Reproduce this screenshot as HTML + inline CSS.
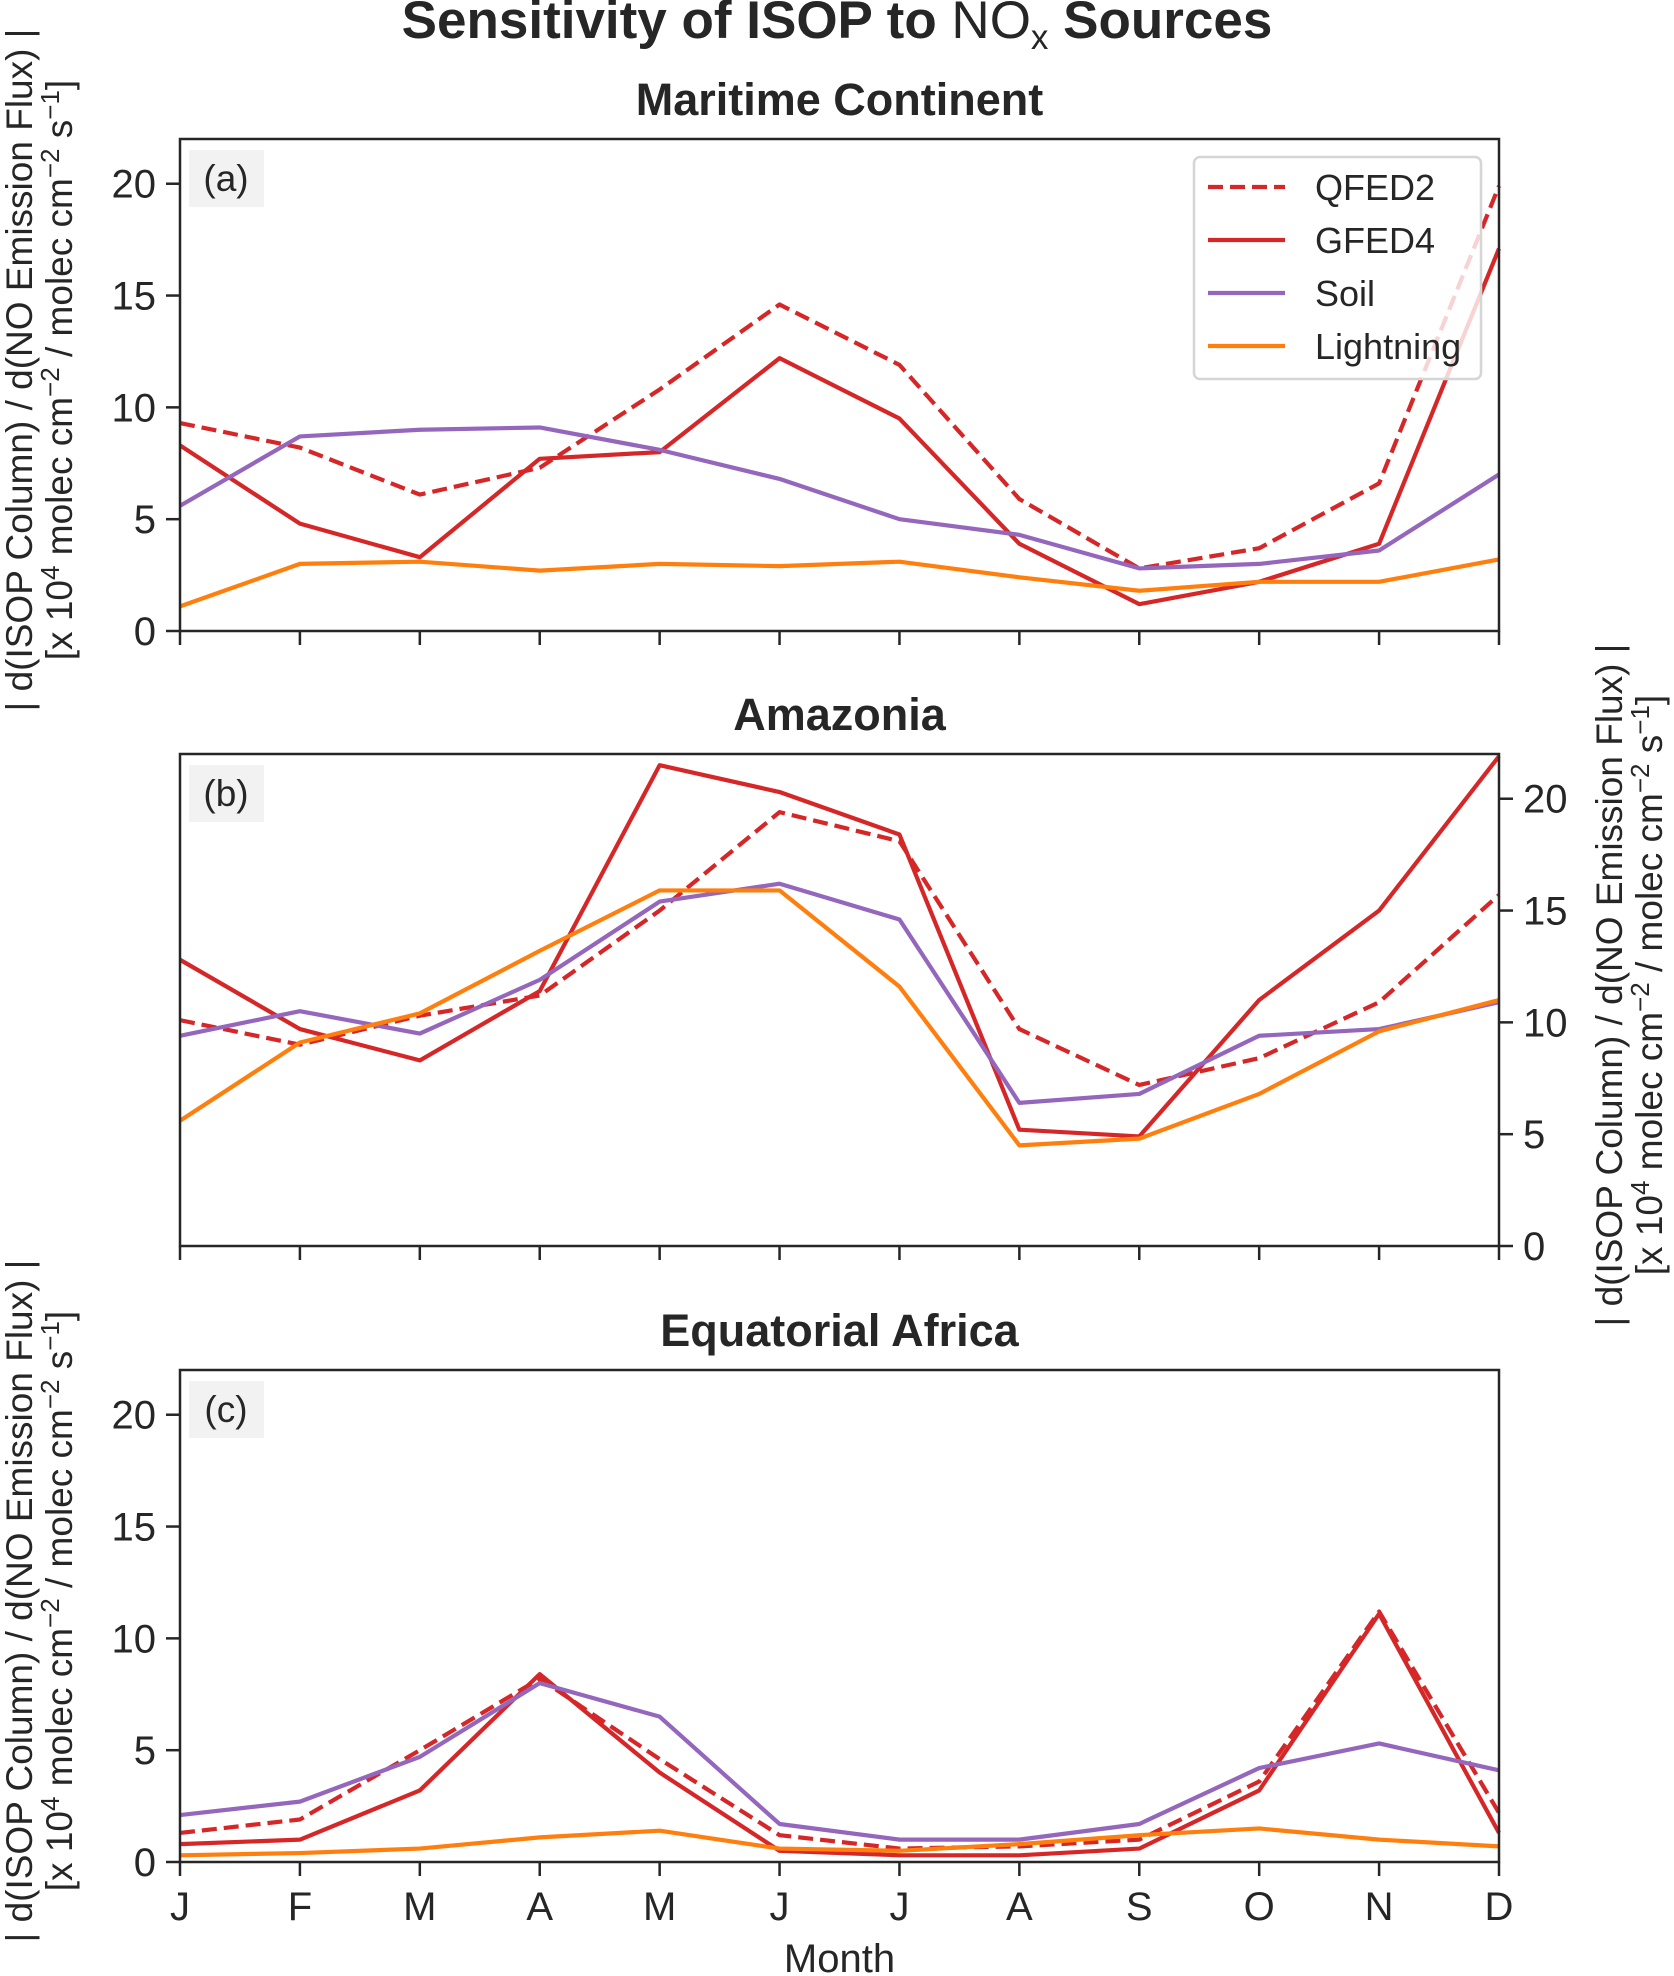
<!DOCTYPE html>
<html><head><meta charset="utf-8">
<style>
body{margin:0;background:#fff}
svg{display:block;font-family:"Liberation Sans",sans-serif}
</style></head>
<body>
<svg id="fig" width="1674" height="1976" viewBox="0 0 1674 1976">
<text x="837" y="38" text-anchor="middle" font-size="53" font-weight="bold" fill="#262626">Sensitivity of ISOP to <tspan font-weight="normal">NO</tspan><tspan font-weight="normal" font-size="35" dy="11">x</tspan><tspan dy="-11"> Sources</tspan></text>
</svg>
<script>
const months = ["J","F","M","A","M","J","J","A","S","O","N","D"];
const yTicks = [0,5,10,15,20];
const seriesNames = ["QFED2","GFED4","Soil","Lightning"];
const maritimeQFED2 = [9.3,8.2,6.1,7.3,10.8,14.6,11.9,5.9,2.8,3.7,6.6,19.9];
const maritimeGFED4 = [8.3,4.8,3.3,7.7,8.0,12.2,9.5,3.9,1.2,2.2,3.9,17.1];
const maritimeSoil = [5.6,8.7,9.0,9.1,8.1,6.8,5.0,4.3,2.8,3.0,3.6,7.0];
const maritimeLightning = [1.1,3.0,3.1,2.7,3.0,2.9,3.1,2.4,1.8,2.2,2.2,3.2];
const amazonQFED2 = [10.1,9.0,10.3,11.2,15.0,19.4,18.1,9.7,7.2,8.4,10.9,15.7];
const amazonGFED4 = [12.8,9.7,8.3,11.4,21.5,20.3,18.4,5.2,4.9,11.0,15.0,21.9];
const amazonSoil = [9.4,10.5,9.5,11.9,15.4,16.2,14.6,6.4,6.8,9.4,9.7,10.9];
const amazonLightning = [5.6,9.1,10.4,13.2,15.9,15.9,11.6,4.5,4.8,6.8,9.6,11.0];
const africaQFED2 = [1.3,1.9,5.0,8.2,4.6,1.2,0.6,0.7,1.0,3.6,11.2,2.2];
const africaGFED4 = [0.8,1.0,3.2,8.4,4.0,0.5,0.3,0.3,0.6,3.2,11.1,1.3];
const africaSoil = [2.1,2.7,4.7,8.0,6.5,1.7,1.0,1.0,1.7,4.2,5.3,4.1];
const africaLightning = [0.3,0.4,0.6,1.1,1.4,0.6,0.5,0.8,1.2,1.5,1.0,0.7];

const NS="http://www.w3.org/2000/svg";
const svg=document.getElementById('fig');
const X0=180,X1=1499,H=492,YMAX=22;
const colors=["#d62728","#d62728","#9467bd","#ff7f0e"];
const dashes=["15,7",null,null,null];
function el(t,a,p){const e=document.createElementNS(NS,t);for(const k in a)e.setAttribute(k,a[k]);(p||svg).appendChild(e);return e;}
function xs(i){return X0+i*(X1-X0)/11;}

const panels=[
 {top:139,title:"Maritime Continent",tag:"(a)",side:"left",xl:false,data:[maritimeQFED2,maritimeGFED4,maritimeSoil,maritimeLightning],key:"maritime"},
 {top:754,title:"Amazonia",tag:"(b)",side:"right",xl:false,data:[amazonQFED2,amazonGFED4,amazonSoil,amazonLightning],key:"amazonia"},
 {top:1370,title:"Equatorial Africa",tag:"(c)",side:"left",xl:true,data:[africaQFED2,africaGFED4,africaSoil,africaLightning],key:"africa"}
];
panels.forEach((p,pi)=>{
 const g=el('g',{});
 
 
 const ys=v=>p.top+H-v/YMAX*H;
 const t=el('text',{x:(X0+X1)/2,y:p.top-24,'text-anchor':'middle','font-size':45,'font-weight':'bold',fill:'#262626'},g);
 t.textContent=p.title;
 
 
 const tb=el('rect',{x:189,y:p.top+11,width:75,height:57,fill:'#f2f2f2'},g);
 
 
 const tt=el('text',{x:226,y:p.top+52,'text-anchor':'middle','font-size':37,fill:'#262626'},g);
 tt.textContent=p.tag;
 
 
 p.data.forEach((arr,si)=>{
  const pts=arr.map((v,i)=>xs(i)+','+ys(Math.min(v,YMAX))).join(' ');
  const a={points:pts,fill:'none',stroke:colors[si],'stroke-width':4.2,'stroke-linejoin':'round'};
  if(dashes[si])a['stroke-dasharray']=dashes[si];
  const l=el('polyline',a,g);
  
  
 });
 const fr=el('rect',{x:X0,y:p.top,width:X1-X0,height:H,fill:'none',stroke:'#262626','stroke-width':2.5},g);
 
 
 months.forEach((m,i)=>{
  const tk=el('line',{x1:xs(i),x2:xs(i),y1:p.top+H,y2:p.top+H+14,stroke:'#262626','stroke-width':2.5},g);
  
  
  if(p.xl){
   const lb=el('text',{x:xs(i),y:p.top+H+58,'text-anchor':'middle','font-size':40,fill:'#262626'},g);
   lb.textContent=m;
   
   
  }
 });
 const ax=p.side==='left'?X0:X1, dir=p.side==='left'?-1:1;
 yTicks.forEach(v=>{
  const tk=el('line',{x1:ax,x2:ax+dir*14,y1:ys(v),y2:ys(v),stroke:'#262626','stroke-width':2.5},g);
  
  
  const lb=el('text',{x:ax+dir*24,y:ys(v)+14,'text-anchor':p.side==='left'?'end':'start','font-size':40,fill:'#262626'},g);
  lb.textContent=v;
  
  
 });
 const lx=p.side==='left'?[32,72]:[1622,1662];
 const cy=p.top+H/2-15;
 const yl=el('text',{transform:`translate(${lx[0]},${cy}) rotate(-90)`,'text-anchor':'middle','font-size':37,fill:'#262626'},g);
 yl.textContent='| d(ISOP Column) / d(NO Emission Flux) |';
 
 
 const yl2=el('text',{transform:`translate(${lx[1]},${cy}) rotate(-90)`,'text-anchor':'middle','font-size':37,fill:'#262626'},g);
 yl2.innerHTML='[x 10<tspan dy="-13" font-size="26">4</tspan><tspan dy="13"> molec cm</tspan><tspan dy="-13" font-size="26">−2</tspan><tspan dy="13"> / molec cm</tspan><tspan dy="-13" font-size="26">−2</tspan><tspan dy="13"> s</tspan><tspan dy="-13" font-size="26">−1</tspan><tspan dy="13">]</tspan>';
 
 
 if(pi===0){
  const lg=el('g',{},g);
  
  
  el('rect',{x:1194,y:157,width:287,height:222,rx:6,fill:'rgba(255,255,255,0.8)',stroke:'#d5d5d5','stroke-width':2.5},lg);
  seriesNames.forEach((n,si)=>{
   const yy=187+si*53;
   const a={x1:1208,x2:1285,y1:yy,y2:yy,stroke:colors[si],'stroke-width':4.2};
   if(dashes[si])a['stroke-dasharray']=dashes[si];
   const ln=el('line',a,lg);
   
   
   const tx=el('text',{x:1315,y:yy+13,'font-size':36,fill:'#262626'},lg);
   tx.textContent=n;
   
   
  });
 }
});
const mx=el('text',{x:(X0+X1)/2,y:1972,'text-anchor':'middle','font-size':40,fill:'#262626'});
mx.textContent='Month';


</script>
</body></html>
